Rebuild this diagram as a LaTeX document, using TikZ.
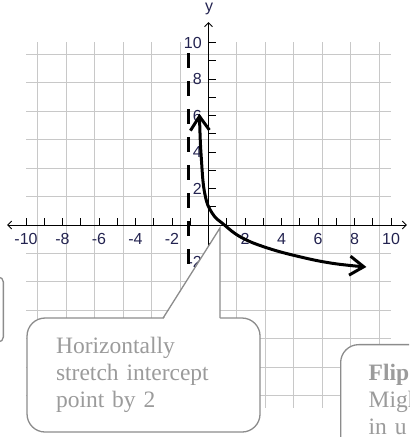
\documentclass[tikz,border=0pt]{standalone}
\usepackage{fontspec}
\setmainfont{Liberation Serif}
\newfontfamily\axisfont{Liberation Sans}
\usetikzlibrary{arrows.meta,positioning}
\definecolor{gridclr}{RGB}{200,200,200}
\definecolor{lblclr}{RGB}{35,35,80}
\definecolor{boxclr}{RGB}{140,140,140}
\definecolor{noteclr}{RGB}{155,155,155}
\tikzset{
  gridln/.style={draw=gridclr,line width=1pt},
  axisln/.style={draw=black,line width=0.9pt},
  axtip/.style={{Straight Barb[length=4pt,width=8pt]}-{Straight Barb[length=4pt,width=8pt]}},
  lbl/.style={text=lblclr,font=\axisfont\fontsize{16}{16}\selectfont,inner sep=0pt},
  asym/.style={draw=black,line width=3.5pt,dash pattern=on 15pt off 13pt},
  fcurve/.style={draw=black,line width=3pt,
                 {Straight Barb[length=14pt,width=19pt]}-{Straight Barb[length=14pt,width=19pt]}},
  callbox/.style={rectangle,draw=boxclr,line width=1.3pt,fill=white,rounded corners=18pt,
                  text=noteclr,font=\fontsize{23.5}{27}\selectfont,align=left},
  callside/.style={draw=boxclr,line width=1.3pt,line join=miter},
}
\begin{document}
\begin{tikzpicture}[x=18.25pt,y=18.25pt]
\useasboundingbox (-11.425,-11.616) rectangle (10.986,12.329);
\clip (-11.425,-11.616) rectangle (10.986,12.329);

% Grid
\draw[gridln] (-10,-10) grid (10,10);

% Axes and ticks
\draw[axisln,axtip] (-11.04,0) -- (10.87,0);
\draw[axisln,-{Straight Barb[length=4pt,width=8pt]}] (0,-10) -- (0,11.12);
\foreach \x in {-10,...,10} \draw[axisln] (\x,0) -- (\x,0.38);
\foreach \y in {-10,...,10} \draw[axisln] (0,\y) -- (0.4,\y);

% Axis labels
\foreach \x in {-10,-8,-6,-4,-2,2,4,6,8,10} \node[lbl] (xl\x) at (\x,-0.77) {\x};
\foreach \y in {-2,2,4,6,8,10} \node[lbl,anchor=east] (yl\y) at (-0.36,\y) {\y};
\node[lbl] (ylab) at (0.03,11.84) {y};

% Asymptote
\draw[asym] (-1.1,9.42) -- (-1.1,-2.14);

% Graph
\draw[fcurve] plot[smooth,tension=0.7] coordinates {(-0.5,6.1) (-0.39,3.6) (-0.2,1.7)
  (0.2,0.65) (0.85,0.02) (1.8,-0.68) (3.2,-1.25) (5,-1.74) (6.8,-2.1) (8.65,-2.3)};

% Callouts
\node[callbox,rounded corners=5pt,minimum width=80pt,minimum height=65pt,anchor=east]
  (lbox) at (-11.205,-4.63) {};

\node[callbox,text width=175pt,inner xsep=29pt,minimum height=114pt]
  (hbox) at (-3.56,-8.22) {Horizontally\\stretch intercept\\point by 2};
\coordinate (pbl) at (-2.49,-5.1);
\coordinate (pbr) at (0.63,-5.1);
\coordinate (ptip) at (0.63,-0.16);
\fill[white] ([yshift=-2pt]pbl) -- (ptip) -- ([yshift=-2pt]pbr) -- cycle;
\draw[callside] (pbl) -- (ptip) -- (pbr);

\node[callbox,anchor=north west,text width=200pt,inner xsep=28pt,inner ysep=20pt]
  (fbox) at (7.205,-6.52) {\textbf{Flip}\\Might\\in u};

\end{tikzpicture}
\end{document}
